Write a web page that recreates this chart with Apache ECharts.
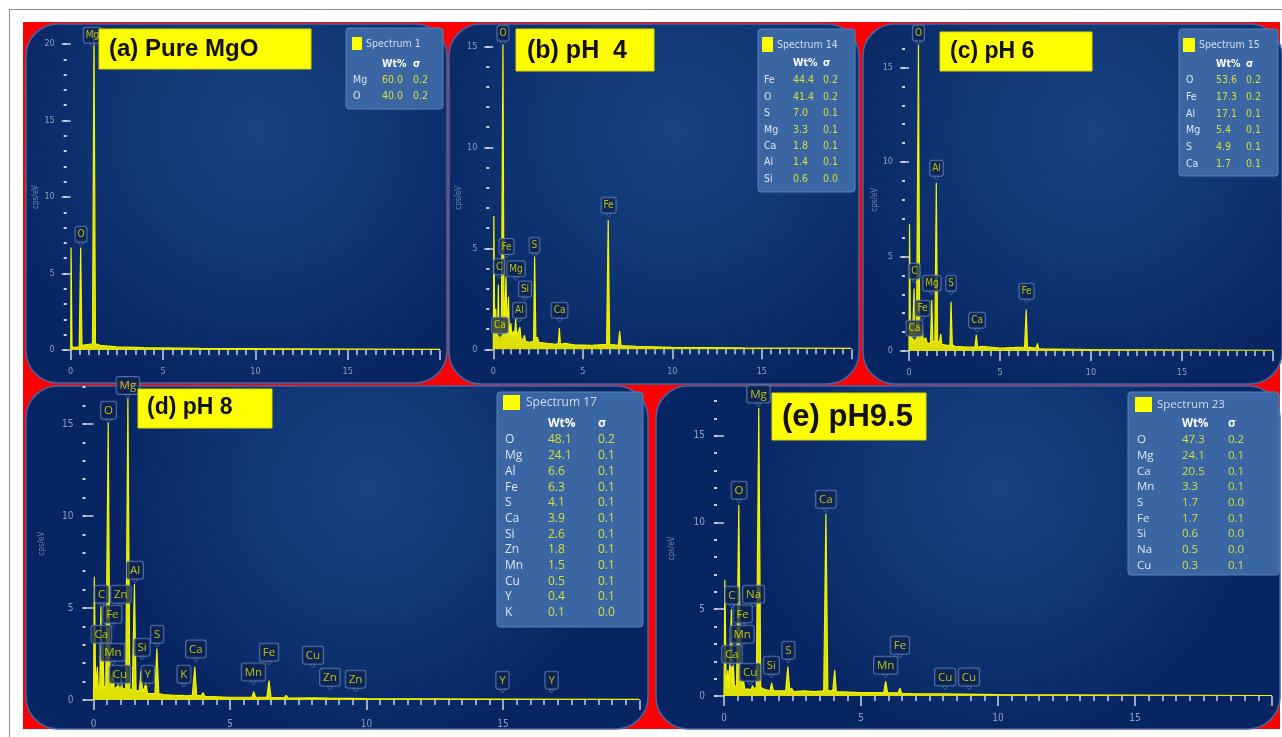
<!DOCTYPE html>
<html>
<head>
<meta charset="utf-8">
<title>EDS spectra of MgO at different pH</title>
<script src="https://cdn.jsdelivr.net/npm/echarts@6.0.0/dist/echarts.min.js"></script>
<style>
  html, body { margin: 0; padding: 0; background: #fff; }
  #main { width: 1282px; height: 737px; }
</style>
</head>
<body>
<div id="main"></div>
<script>
// ---- spectra, [keV, cps/eV] ----
var aSpectrum = [[0,0],[0.02,6.7],[0.07,0.3],[0.12,0.15],[0.46,0.2],[0.54,6.7],[0.61,0.3],[0.9,0.35],[1.18,0.4],[1.26,20.9],[1.34,0.4],[1.6,0.3],[2.5,0.2],[4,0.15],[7,0.1],[12,0.07],[20,0.04]];
var bSpectrum = [[0,0],[0.03,6.6],[0.08,0.8],[0.14,2.0],[0.18,0.6],[0.24,0.8],[0.28,3.2],[0.32,0.8],[0.35,1.6],[0.39,0.7],[0.45,1.0],[0.54,15.1],[0.6,1.2],[0.66,2.2],[0.71,3.6],[0.76,1.0],[0.85,2.6],[0.9,0.7],[0.98,1.3],[1.04,0.6],[1.12,0.9],[1.18,0.6],[1.25,1.5],[1.31,0.6],[1.4,0.9],[1.49,1.1],[1.55,0.5],[1.68,0.5],[1.74,0.7],[1.8,0.4],[2.0,0.35],[2.25,0.4],[2.31,4.6],[2.38,0.5],[2.46,0.6],[2.55,0.35],[3.0,0.3],[3.5,0.25],[3.63,0.3],[3.69,1.05],[3.75,0.25],[4.0,0.3],[4.5,0.22],[5.5,0.2],[6.33,0.25],[6.42,6.4],[6.5,0.25],[6.98,0.2],[7.06,0.9],[7.13,0.18],[8,0.15],[10,0.1],[14,0.07],[20,0.05]];
var cSpectrum = [[0,0],[0.03,6.7],[0.08,0.6],[0.14,1.5],[0.18,0.5],[0.28,3.3],[0.33,0.6],[0.36,1.2],[0.41,0.5],[0.52,16.2],[0.59,0.8],[0.66,1.1],[0.71,1.4],[0.78,0.6],[0.88,0.5],[0.93,0.7],[1.0,0.4],[1.18,0.4],[1.25,2.7],[1.31,0.5],[1.42,0.5],[1.5,8.9],[1.57,0.5],[1.68,0.5],[1.74,0.9],[1.8,0.35],[2.1,0.3],[2.25,0.3],[2.31,2.6],[2.38,0.3],[2.46,0.4],[2.55,0.25],[3.2,0.2],[3.62,0.2],[3.7,0.85],[3.77,0.2],[4.0,0.25],[5,0.15],[6.35,0.2],[6.44,2.2],[6.51,0.2],[6.98,0.15],[7.06,0.4],[7.13,0.12],[10,0.08],[20,0.04]];
var dSpectrum = [[0,0],[0.03,6.7],[0.08,0.6],[0.14,1.8],[0.18,0.5],[0.23,0.8],[0.27,5.1],[0.31,0.7],[0.34,3.2],[0.38,0.6],[0.45,0.8],[0.54,15.1],[0.6,1.0],[0.64,1.3],[0.68,0.7],[0.71,1.6],[0.76,0.6],[0.85,0.7],[0.93,0.9],[0.97,0.6],[1.01,1.2],[1.06,0.6],[1.12,0.7],[1.18,0.6],[1.26,16.4],[1.33,0.6],[1.42,0.5],[1.5,6.3],[1.56,0.5],[1.68,0.5],[1.74,1.6],[1.8,0.4],[1.87,0.4],[1.92,0.9],[1.98,0.35],[2.1,0.35],[2.25,0.35],[2.32,2.8],[2.39,0.35],[2.46,0.45],[2.55,0.3],[3.0,0.25],[3.25,0.25],[3.31,0.35],[3.37,0.22],[3.62,0.25],[3.71,1.8],[3.78,0.25],[3.95,0.22],[4.01,0.4],[4.08,0.2],[5.0,0.15],[5.8,0.15],[5.87,0.45],[5.94,0.15],[6.35,0.15],[6.43,1.05],[6.5,0.15],[6.98,0.12],[7.06,0.25],[7.13,0.1],[8.04,0.12],[8.63,0.1],[10,0.07],[15,0.05],[20,0.03]];
var eSpectrum = [[0,0],[0.03,6.7],[0.08,0.5],[0.14,1.5],[0.18,0.4],[0.27,5.0],[0.31,0.6],[0.34,1.8],[0.38,0.5],[0.46,0.6],[0.54,11.0],[0.6,0.8],[0.64,1.0],[0.68,0.5],[0.71,0.9],[0.76,0.4],[0.88,0.4],[0.93,0.5],[0.98,0.35],[1.04,0.6],[1.1,0.4],[1.18,0.5],[1.27,16.6],[1.34,0.5],[1.45,0.4],[1.68,0.3],[1.74,0.75],[1.8,0.3],[2.1,0.3],[2.25,0.3],[2.33,1.7],[2.4,0.3],[2.46,0.45],[2.55,0.25],[2.9,0.3],[3.3,0.25],[3.64,0.3],[3.72,10.5],[3.79,0.3],[3.97,0.3],[4.04,1.5],[4.1,0.25],[5.0,0.2],[5.83,0.2],[5.9,0.85],[5.97,0.2],[6.35,0.18],[6.42,0.45],[6.49,0.15],[7.0,0.12],[8.04,0.12],[10,0.08],[15,0.05],[20,0.03]];

// ---- peak markers: [element, keV, cps/eV at the pointer] ----
var aPeaks = [['O',0.56,6.8],['Mg',1.18,19.8]];
var bPeaks = [['O',0.54,15.06],['Fe',0.74,4.5],['C',0.32,3.5],['Mg',1.27,3.4],['Si',1.77,2.4],['Al',1.46,1.35],['S',2.3,4.57],['Ca',0.37,0.6],['Ca',3.7,1.35],['Fe',6.44,6.55]];
var cPeaks = [['O',0.52,16.2],['C',0.3,3.6],['Fe',0.74,1.64],['Ca',0.3,0.58],['Mg',1.26,2.96],['Al',1.51,9.05],['S',2.31,2.96],['Ca',3.74,1.0],['Fe',6.46,2.54]];
var dPeaks = [['Mg',1.26,16.4],['O',0.55,15.05],['C',0.3,5.05],['Zn',1.0,5.05],['Al',1.52,6.36],['Fe',0.69,3.97],['Ca',0.29,2.88],['Mn',0.71,1.9],['Cu',0.97,0.7],['Si',1.78,2.17],['Y',1.99,0.7],['S',2.33,2.88],['K',3.31,0.7],['Ca',3.75,2.07],['Mn',5.86,0.82],['Fe',6.43,1.9],['Cu',8.04,1.74],['Zn',8.66,0.54],['Zn',9.6,0.43],['Y',14.98,0.38],['Y',16.78,0.38]];
var ePeaks = [['Mg',1.26,16.66],['O',0.55,11.12],['C',0.29,5.07],['Na',1.08,5.13],['Fe',0.68,3.98],['Mn',0.66,2.82],['Ca',0.29,1.67],['Cu',0.95,0.63],['Si',1.73,1.04],['S',2.35,1.9],['Ca',3.72,10.6],['Mn',5.9,1.04],['Fe',6.42,2.19],['Cu',8.07,0.35],['Cu',8.94,0.35]];

// ---- quantification tables ----
var aElements = ['Mg','O'];
var aWt = [60.0,40.0];
var aSigma = [0.2,0.2];
var bElements = ['Fe','O','S','Mg','Ca','Al','Si'];
var bWt = [44.4,41.4,7.0,3.3,1.8,1.4,0.6];
var bSigma = [0.2,0.2,0.1,0.1,0.1,0.1,0.0];
var cElements = ['O','Fe','Al','Mg','S','Ca'];
var cWt = [53.6,17.3,17.1,5.4,4.9,1.7];
var cSigma = [0.2,0.2,0.1,0.1,0.1,0.1];
var dElements = ['O','Mg','Al','Fe','S','Ca','Si','Zn','Mn','Cu','Y','K'];
var dWt = [48.1,24.1,6.6,6.3,4.1,3.9,2.6,1.8,1.5,0.5,0.4,0.1];
var dSigma = [0.2,0.1,0.1,0.1,0.1,0.1,0.1,0.1,0.1,0.1,0.1,0.0];
var eElements = ['O','Mg','Ca','Mn','S','Fe','Si','Na','Cu'];
var eWt = [47.3,24.1,20.5,3.3,1.7,1.7,0.6,0.5,0.3];
var eSigma = [0.2,0.1,0.1,0.1,0.0,0.1,0.0,0.0,0.1];

var yTickValues = [0, 5, 10, 15, 20];

var NARROW = "'Liberation Sans Narrow', 'DejaVu Sans Condensed', sans-serif";
var OPEN = "'Open Sans', 'DejaVu Sans', sans-serif";
var BOLD = "'Liberation Sans', Arial, sans-serif";

var panels = [
  { box: [26, 24, 421, 359], grid: [70.7, 44, 369.4, 306], yMax: 20, yOffset: 4, nameGap: 27, xMargin: 14, tickFont: 9, peakFont: 10, peakPad: [3, 2, 2, 2], peakFamily: NARROW,
    title: '(a) Pure MgO', titleBox: [99, 29, 212, 40], titleX: 109, titleY: 49, titleFont: 24,
    spectrum: aSpectrum, peaks: aPeaks,
    legend: { name: 'Spectrum 1', elements: aElements, wt: aWt, sigma: aSigma, family: NARROW, font: 10.5,
      box: [346, 28, 97, 81], sq: [352, 37, 10, 13], nameX: 366, nameY: 44, headY: 64, rowY: 80, rowStep: 16, cols: [353, 382, 413] } },
  { box: [449, 24, 410, 360], grid: [493.3, 46.3, 358, 303], yMax: 15, yOffset: 4, nameGap: 25, xMargin: 15, tickFont: 9, peakFont: 10, peakPad: [3, 2, 2, 2], peakFamily: NARROW,
    title: '(b) pH  4', titleBox: [516, 29, 138, 42], titleX: 527, titleY: 51, titleFont: 25,
    spectrum: bSpectrum, peaks: bPeaks,
    legend: { name: 'Spectrum 14', elements: bElements, wt: bWt, sigma: bSigma, family: NARROW, font: 10.5,
      box: [758, 29, 97, 163], sq: [762, 37, 11, 15], nameX: 777, nameY: 45, headY: 63, rowY: 80.7, rowStep: 16.4, cols: [764, 793, 823] } },
  { box: [863, 24, 419, 360], grid: [909, 48.6, 364, 302.4], yMax: 16, yOffset: 4, nameGap: 25, xMargin: 14, tickFont: 9, peakFont: 10, peakPad: [3, 2, 2, 2], peakFamily: NARROW,
    title: '(c) pH 6', titleBox: [940, 32, 152, 39], titleX: 950, titleY: 52, titleFont: 23,
    spectrum: cSpectrum, peaks: cPeaks,
    legend: { name: 'Spectrum 15', elements: cElements, wt: cWt, sigma: cSigma, family: NARROW, font: 10.5,
      box: [1179, 29, 99, 147], sq: [1183, 38, 12, 14], nameX: 1199, nameY: 45, headY: 64, rowY: 80.7, rowStep: 16.66, cols: [1186, 1216, 1246] } },
  { box: [26, 386, 622, 343], grid: [93.5, 387.2, 546, 312.8], yMax: 17, yOffset: 8, nameGap: 40, xMargin: 16, tickFont: 10, peakFont: 11.5, peakPad: [3, 3, 2, 3], peakFamily: OPEN,
    title: '(d) pH 8', titleBox: [138, 389, 134, 39], titleX: 147, titleY: 408, titleFont: 23,
    spectrum: dSpectrum, peaks: dPeaks,
    legend: { name: 'Spectrum 17', elements: dElements, wt: dWt, sigma: dSigma, family: OPEN, font: 12,
      box: [497, 392, 146, 235], sq: [503, 395, 17, 15], nameX: 526, nameY: 403, headY: 424, rowY: 440, rowStep: 15.7, cols: [505, 548, 598] } },
  { box: [656, 386, 624, 343], grid: [724, 401, 548, 295], yMax: 17, yOffset: 7, nameGap: 41, xMargin: 14, tickFont: 10, peakFont: 11.5, peakPad: [3, 3, 2, 3], peakFamily: OPEN,
    title: '(e) pH9.5', titleBox: [772, 393, 154, 47], titleX: 782, titleY: 417, titleFont: 31,
    spectrum: eSpectrum, peaks: ePeaks,
    legend: { name: 'Spectrum 23', elements: eElements, wt: eWt, sigma: eSigma, family: OPEN, font: 11.5,
      box: [1128, 392, 151, 183], sq: [1135, 397, 17, 15], nameX: 1157, nameY: 405, headY: 424, rowY: 440, rowStep: 15.7, cols: [1137, 1182, 1228] } }
];

function txt(text, x, y, font, fill, align, z) {
  return {
    type: 'text', x: x, y: y, z: z || 42, silent: true,
    style: { text: text, font: font, fill: fill, textAlign: align || 'left', textVerticalAlign: 'middle', align: align || 'left', verticalAlign: 'middle' }
  };
}

function legendGraphics(L) {
  var els = [], f = L.font + 'px ' + L.family;
  els.push({ type: 'rect', z: 40, silent: true, shape: { x: L.box[0], y: L.box[1], width: L.box[2], height: L.box[3], r: 3 },
    style: { fill: '#3a66a3', stroke: '#5682bd', lineWidth: 1 } });
  els.push({ type: 'rect', z: 41, silent: true, shape: { x: L.sq[0], y: L.sq[1], width: L.sq[2], height: L.sq[3] }, style: { fill: '#ffff00' } });
  els.push(txt(L.name, L.nameX, L.nameY, f, '#d4dbea'));
  els.push(txt('Wt%', L.cols[1], L.headY, 'bold ' + f, '#ffffff'));
  els.push(txt('σ', L.cols[2], L.headY, 'bold ' + f, '#ffffff'));
  L.elements.forEach(function (el, k) {
    var y = L.rowY + k * L.rowStep;
    els.push(txt(el, L.cols[0], y, f, '#dfe5f0'));
    els.push(txt(L.wt[k].toFixed(1), L.cols[1], y, f, '#d9df3c'));
    els.push(txt(L.sigma[k].toFixed(1), L.cols[2], y, f, '#d9df3c'));
  });
  return els;
}

var grids = [], xAxes = [], yAxes = [], series = [];
var graphics = [
  { type: 'rect', z: -30, silent: true, shape: { x: 9.5, y: 9.5, width: 1290, height: 760 }, style: { fill: '#ffffff', stroke: '#8c8c8c', lineWidth: 1 } },
  { type: 'rect', z: -20, silent: true, shape: { x: 23, y: 22, width: 1257, height: 707 }, style: { fill: '#ff0000' } }
];

panels.forEach(function (p, i) {
  var tickStyle = { color: '#c9d2e3', width: 1.5 };
  var labelColor = '#8ea0c4';
  var yTicks = yTickValues.filter(function (v) { return v <= p.yMax; });

  grids.push({ left: p.grid[0], top: p.grid[1], width: p.grid[2], height: p.grid[3], containLabel: false });

  xAxes.push({
    type: 'value', gridIndex: i, position: 'bottom', min: 0, max: 20, interval: 5, offset: 3,
    axisLine: { show: false },
    axisTick: { show: true, length: 10, lineStyle: tickStyle },
    minorTick: { show: true, splitNumber: 10, length: 5, lineStyle: tickStyle },
    axisLabel: { color: labelColor, fontSize: p.tickFont, margin: p.xMargin, showMaxLabel: false, fontFamily: NARROW },
    splitLine: { show: false }
  });

  // major ticks with labels
  yAxes.push({
    type: 'value', gridIndex: i, position: 'left', min: 0, max: p.yMax, interval: 5, offset: p.yOffset,
    name: 'cps/eV', nameLocation: 'middle', nameRotate: 90, nameGap: p.nameGap,
    nameTextStyle: { color: '#7086b3', fontSize: 8, fontFamily: NARROW },
    axisLine: { show: false },
    axisTick: { show: true, length: 9, lineStyle: tickStyle, customValues: yTicks },
    axisLabel: { color: labelColor, fontSize: p.tickFont, margin: 12, fontFamily: NARROW, customValues: yTicks },
    splitLine: { show: false }
  });
  // unit ticks (dots)
  yAxes.push({
    type: 'value', gridIndex: i, position: 'left', min: 0, max: p.yMax, interval: 1, offset: p.yOffset,
    axisLine: { show: false },
    axisTick: { show: true, length: 3, lineStyle: { color: '#c9d2e3', width: 2 } },
    axisLabel: { show: false },
    splitLine: { show: false }
  });

  series.push({
    type: 'line', xAxisIndex: i, yAxisIndex: 2 * i, data: p.spectrum,
    showSymbol: false, clip: false, z: 3, silent: true,
    lineStyle: { color: '#f4f400', width: 1.2 },
    areaStyle: { color: '#e9e900', opacity: 0.95 }
  });

  series.push({
    type: 'scatter', xAxisIndex: i, yAxisIndex: 2 * i, clip: false, z: 5, silent: true,
    symbol: 'triangle', symbolRotate: 180, symbolSize: [6, 4], symbolOffset: [0, -2],
    itemStyle: { color: '#0d2656', borderColor: '#5f7fb5', borderWidth: 0.8 },
    label: {
      show: true, position: 'top', distance: 0, formatter: '{b}',
      color: '#e4e400', fontSize: p.peakFont, fontFamily: p.peakFamily,
      backgroundColor: 'rgba(12,34,78,0.92)', borderColor: '#5f7fb5', borderWidth: 1, borderRadius: 2,
      padding: p.peakPad
    },
    data: p.peaks.map(function (q) { return { name: q[0], value: [q[1], q[2]] }; })
  });

  graphics.push({
    type: 'rect', z: -10, silent: true,
    shape: { x: p.box[0], y: p.box[1], width: p.box[2], height: p.box[3], r: 32 },
    style: {
      fill: new echarts.graphic.RadialGradient(0.55, 0.3, 0.75, [
        { offset: 0, color: '#184283' },
        { offset: 0.45, color: '#113877' },
        { offset: 1, color: '#082563' }
      ]),
      stroke: '#4565a3', lineWidth: 1.5
    }
  });
  graphics.push({ type: 'rect', z: 45, silent: true,
    shape: { x: p.titleBox[0], y: p.titleBox[1], width: p.titleBox[2], height: p.titleBox[3] },
    style: { fill: '#ffff00', stroke: '#d8d800', lineWidth: 1 } });
  graphics.push(txt(p.title, p.titleX, p.titleY, 'bold ' + p.titleFont + 'px ' + BOLD, '#111111', 'left', 46));
  graphics = graphics.concat(legendGraphics(p.legend));
});

var chart = echarts.init(document.getElementById('main'), null, { renderer: 'canvas' });
chart.setOption({
  backgroundColor: '#ffffff',
  animation: false,
  grid: grids,
  xAxis: xAxes,
  yAxis: yAxes,
  series: series,
  graphic: { elements: graphics }
});
window.addEventListener('resize', function () { chart.resize(); });
</script>
</body>
</html>
